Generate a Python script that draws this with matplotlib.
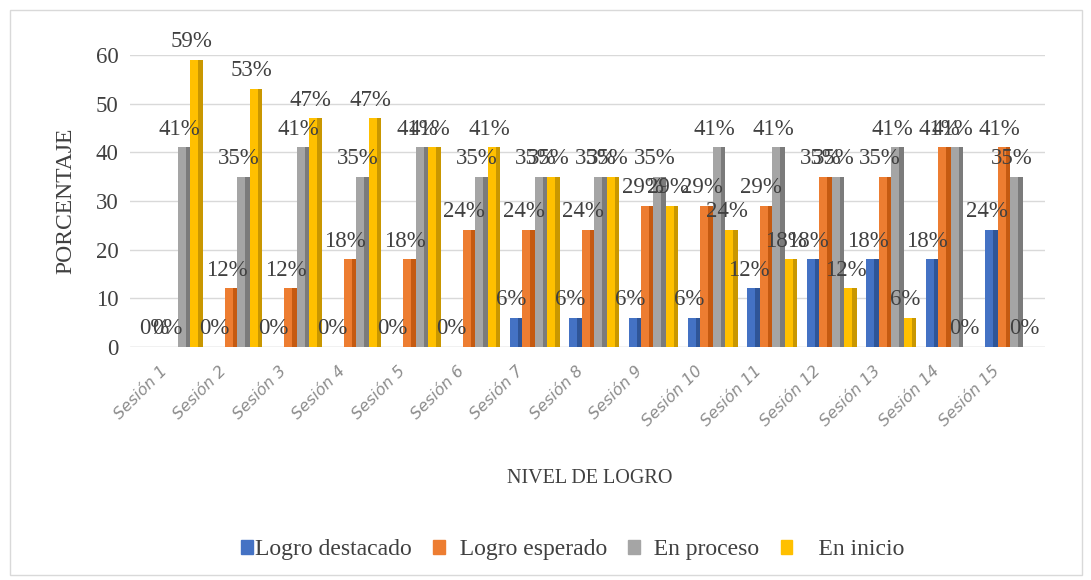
import matplotlib.pyplot as plt
import numpy as np
from matplotlib.patches import Rectangle
from matplotlib.transforms import ScaledTranslation

# Datos por sesión
sesiones = ['Sesión %d' % i for i in range(1, 16)]
destacado = [0, 0, 0, 0, 0, 0, 6, 6, 6, 6, 12, 18, 18, 18, 24]
esperado = [0, 12, 12, 18, 18, 24, 24, 24, 29, 29, 29, 35, 35, 41, 41]
proceso = [41, 35, 41, 35, 41, 35, 35, 35, 35, 41, 41, 35, 41, 41, 35]
inicio = [59, 53, 47, 47, 41, 41, 35, 35, 29, 24, 18, 12, 6, 0, 0]

series = [
    ('Logro destacado', destacado, '#4472c4', '#2f5597'),
    ('Logro esperado', esperado, '#ed7d31', '#c55a11'),
    ('En proceso', proceso, '#a5a5a5', '#7b7b7b'),
    ('En inicio', inicio, '#ffc000', '#c99700'),
]

plt.rcParams['font.family'] = ['Liberation Serif', 'DejaVu Serif']

fig = plt.figure(figsize=(10.91, 5.80), dpi=100)
ax = fig.add_axes([0.119, 0.402, 0.839, 0.503])

x = np.arange(len(sesiones))
ancho = 0.21
offsets = [-0.315, -0.105, 0.105, 0.315]

for (nombre, vals, color, sombra), off in zip(series, offsets):
    ax.bar(x + off, vals, ancho, color=color, label=nombre, zorder=3)
    # franja oscura a la derecha para imitar el volumen
    ax.bar(x + off + ancho * 0.32, vals, ancho * 0.36, color=sombra, zorder=3)
    for xi, v in zip(x + off, vals):
        ax.text(xi - 0.08, v + 1.6, '%d%%' % v, ha='center', va='bottom',
                fontsize=16.5, color='#404040', zorder=5)

# piso
ax.axhspan(-0.4, 0, color='#d9d9d9', zorder=2)

ax.set_ylim(0, 60)
ax.set_xlim(-0.81, 14.59)
ax.set_yticks(range(0, 61, 10))
ax.tick_params(axis='y', labelsize=16.5, labelcolor='#404040', length=0, pad=8)
ax.grid(axis='y', color='#d9d9d9', linewidth=1, zorder=0)
ax.set_xticks(x)
ax.set_xticklabels(sesiones, rotation=45, ha='right', fontsize=11.5,
                   color='#8c8c8c', family='DejaVu Sans', style='italic')
ax.tick_params(axis='x', length=0, pad=12)
desplazar = ScaledTranslation(-0.08, 0, fig.dpi_scale_trans)
for lbl in ax.get_xticklabels():
    lbl.set_transform(lbl.get_transform() + desplazar)
for s in ax.spines.values():
    s.set_visible(False)

ax.set_ylabel('PORCENTAJE', fontsize=17, color='#404040', labelpad=14)
fig.text(0.541, 0.175, 'NIVEL DE LOGRO', ha='center', va='center',
         fontsize=14.5, color='#404040')

handles = [Rectangle((0, 0), 1, 1, color=c) for _, _, c, _ in series]
etiquetas = ['Logro destacado', '  Logro esperado', '  En proceso', '    En inicio']
fig.legend(handles, etiquetas, loc='center',
           bbox_to_anchor=(0.525, 0.052), ncol=4, frameon=False,
           fontsize=17, handlelength=0.5, handleheight=0.5,
           columnspacing=0.9, handletextpad=0.1, labelcolor='#404040')

fig.patches.append(Rectangle((0.009, 0.008), 0.983, 0.975, transform=fig.transFigure,
                             fill=False, edgecolor='#d9d9d9', linewidth=1))

fig.savefig('out.png', dpi=100)
